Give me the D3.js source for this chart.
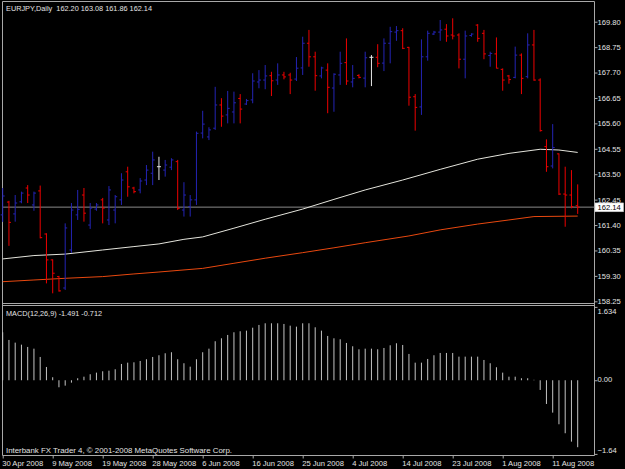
<!DOCTYPE html>
<html><head><meta charset="utf-8">
<script src="https://cdn.jsdelivr.net/npm/d3@7"></script>
<style>html,body{margin:0;padding:0;background:#000;overflow:hidden}</style>
</head><body><svg id="c" width="625" height="469"></svg>
<script>
// ---- data (EURJPY daily, 30 Apr 2008 – 15 Aug 2008) ----
const opens = [161.82,162.35,161.86,162.36,162.93,162.23,162.81,161.03,159.96,159.27,
158.80,160.37,161.82,162.64,161.40,162.06,162.44,161.61,162.02,162.44,
163.60,162.93,162.85,163.26,163.54,163.81,163.67,163.79,164.02,162.02,
162.16,162.44,165.20,165.04,165.40,166.36,165.95,166.07,166.63,166.40,
166.57,167.31,167.39,167.57,167.39,167.60,167.60,167.43,167.89,168.91,
168.35,167.56,167.80,167.06,167.60,168.11,167.31,167.58,167.47,168.33,
168.33,168.09,168.91,169.37,169.43,168.74,166.70,166.28,168.35,169.29,
169.37,169.49,169.25,169.25,168.25,169.23,169.66,169.32,168.40,168.47,
167.83,167.56,167.50,168.42,167.53,168.84,167.39,164.64,163.84,164.34,
162.68,162.64,162.20];
const highs = [162.93,162.40,162.64,162.78,163.05,162.78,163.03,161.06,159.98,159.30,
161.47,162.31,162.85,162.93,162.31,162.31,162.52,163.01,162.64,163.54,
163.81,162.98,163.34,163.88,164.43,164.22,164.09,164.16,164.09,163.17,
162.64,165.26,166.12,165.44,167.11,166.64,166.94,166.91,166.81,166.61,
167.67,167.80,168.01,167.73,168.08,167.73,167.69,168.34,169.18,169.46,
168.56,167.94,168.08,167.67,168.56,169.11,168.01,167.63,168.56,168.42,
168.87,169.11,169.59,169.62,169.53,168.76,166.81,169.07,169.43,169.42,
169.87,169.70,169.94,169.32,169.43,169.32,169.70,169.46,168.56,169.15,
167.87,167.60,168.77,168.49,169.32,169.46,167.46,164.94,165.57,164.36,
163.81,163.67,163.08];
const lows = [161.53,160.54,161.54,162.30,162.31,161.99,160.85,158.99,158.58,158.65,
158.72,160.25,161.61,161.54,161.24,161.99,161.47,161.40,161.47,162.23,
162.57,162.71,162.71,163.05,163.05,163.26,163.40,163.67,162.02,161.75,
161.75,162.23,164.98,164.91,165.33,165.46,165.60,165.60,165.60,166.36,
166.43,167.05,167.01,166.73,167.19,167.42,166.81,167.35,167.60,167.94,
166.95,167.46,166.02,166.08,167.19,167.19,167.09,167.46,167.09,167.14,
167.92,167.76,168.08,169.01,168.67,166.33,165.30,165.95,168.19,169.25,
169.01,168.97,169.07,167.87,167.46,169.18,168.97,168.25,167.94,167.87,
166.95,167.24,167.46,166.81,167.46,167.36,165.26,163.60,163.74,162.64,
161.33,162.09,161.86];
const closes = [162.60,161.51,162.31,162.72,162.64,162.72,160.88,159.96,159.41,158.68,
161.28,162.02,162.05,161.89,162.10,162.23,162.10,162.85,162.57,163.26,
162.98,162.78,163.22,163.67,164.09,163.81,163.88,164.09,162.09,162.64,
162.44,165.19,165.57,165.33,166.36,165.90,166.22,166.45,166.19,166.54,
167.35,167.39,167.56,167.36,167.60,167.52,167.39,167.88,168.91,168.35,
167.57,167.89,167.09,167.63,168.08,167.35,167.46,167.50,168.31,168.33,
168.08,168.91,169.39,169.43,168.70,166.68,166.26,168.35,169.32,169.37,
169.46,169.21,169.21,168.25,169.21,169.29,169.11,168.47,168.49,167.88,
167.39,167.41,168.42,167.46,168.84,167.39,165.30,163.81,164.60,162.68,
162.64,162.16,162.14];
// moving averages read at selected bars
const maWhiteBars = [0,5,10,16,21,25,29,32,37,42,48,53,58,64,70,76,81,86,89,92];
const maWhite = [160.00,160.14,160.20,160.37,160.51,160.62,160.81,160.91,161.27,161.64,162.06,162.46,162.85,163.26,163.70,164.12,164.36,164.53,164.50,164.40];
const maRedBars = [0,5,10,16,21,25,32,37,42,48,53,58,65,70,76,81,85,92];
const maRed = [159.06,159.13,159.20,159.27,159.38,159.46,159.61,159.82,160.03,160.26,160.46,160.67,160.95,161.20,161.44,161.61,161.75,161.77];
const macd = [1.069,0.898,0.838,0.793,0.742,0.704,0.519,0.296,0.067,-0.156,
-0.12,-0.053,0.045,0.08,0.134,0.17,0.2,0.214,0.245,0.363,
0.392,0.4,0.43,0.468,0.519,0.557,0.601,0.624,0.468,0.379,
0.303,0.468,0.624,0.704,0.869,0.935,1.009,1.069,1.091,1.105,
1.171,1.232,1.269,1.269,1.269,1.254,1.216,1.194,1.269,1.269,
1.18,1.105,0.987,0.935,0.913,0.831,0.757,0.69,0.704,0.704,
0.69,0.719,0.779,0.824,0.786,0.586,0.392,0.392,0.474,0.557,
0.608,0.608,0.608,0.526,0.526,0.526,0.526,0.452,0.379,0.29,
0.17,0.08,0.08,0.045,0.045,0.01,-0.216,-0.528,-0.721,-0.98,
-1.18,-1.367,-1.491];
const priceTicks = [158.25,159.30,160.35,161.40,162.45,163.50,164.55,165.60,166.65,167.70,168.75,169.80];
const macdTicks = [1.634,0,-1.64];
const dateLabels = ["30 Apr 2008","9 May 2008","19 May 2008","28 May 2008","6 Jun 2008","16 Jun 2008","25 Jun 2008","4 Jul 2008","14 Jul 2008","23 Jul 2008","1 Aug 2008","11 Aug 2008"];
const lastPrice = 162.14;
const titleText = "EURJPY,Daily  162.20 163.08 161.86 162.14";
const macdText = "MACD(12,26,9) -1.491 -0.712";
const footText = "Interbank FX Trader 4, \u00A9 2001-2008 MetaQuotes Software Corp.";

// ---- drawing ----
const FONT = "'Liberation Sans', Arial, sans-serif";
const FS = 7.6;
const TXT = "#e4e4e4", FRAME = "#a8a8a8";
const svg = d3.select("#c");
svg.append("rect").attr("width",625).attr("height",469).attr("fill","#000");

const n = closes.length;
const x = d3.scaleLinear().domain([0, n-1]).range([2.7, 577.7]);
const y = d3.scaleLinear().domain([158.25, 169.80]).range([301.3, 21.7]);
const ym = d3.scaleLinear().domain([-1.64, 1.634]).range([453.9, 306.9]);

// frames
const frame = svg.append("g").attr("stroke",FRAME).attr("stroke-width",1);
frame.append("line").attr("x1",2.5).attr("x2",594.5).attr("y1",1.5).attr("y2",1.5);
frame.append("line").attr("x1",2.5).attr("x2",2.5).attr("y1",1.5).attr("y2",455.5);
frame.append("line").attr("x1",594.5).attr("x2",594.5).attr("y1",1.5).attr("y2",455.5);
frame.append("line").attr("x1",2.5).attr("x2",594.5).attr("y1",303.5).attr("y2",303.5);
frame.append("line").attr("x1",2.5).attr("x2",594.5).attr("y1",305.5).attr("y2",305.5);
frame.append("line").attr("x1",2.5).attr("x2",594.5).attr("y1",455.5).attr("y2",455.5);

// last price line
svg.append("line").attr("x1",2.5).attr("x2",594.5)
  .attr("y1",y(lastPrice)).attr("y2",y(lastPrice))
  .attr("stroke","#8a8a8a").attr("stroke-width",1);

// moving averages
const line = d3.line().x(d=>x(d[0])).y(d=>y(d[1]));
svg.append("path").datum(maRedBars.map((b,i)=>[b,maRed[i]]))
  .attr("d",line).attr("fill","none").attr("stroke","#e8480f").attr("stroke-width",1);
svg.append("path").datum(maWhiteBars.map((b,i)=>[b,maWhite[i]]))
  .attr("d",line).attr("fill","none").attr("stroke","#e4e4dc").attr("stroke-width",1);

// OHLC bars
const bars = d3.range(n).map(i=>({i,o:opens[i],h:highs[i],l:lows[i],c:closes[i]}));
const col = d => d.c > d.o ? "#2424b4" : (d.c < d.o ? "#ee0000" : "#e8e8e8");
const bg = svg.append("g").selectAll("g").data(bars).join("g").attr("stroke",col).attr("stroke-width",1);
bg.append("line").attr("x1",d=>x(d.i)).attr("x2",d=>x(d.i)).attr("y1",d=>y(d.h)).attr("y2",d=>y(d.l));
bg.append("line").attr("x1",d=>x(d.i)-2).attr("x2",d=>x(d.i)).attr("y1",d=>y(d.o)).attr("y2",d=>y(d.o));
bg.append("line").attr("x1",d=>x(d.i)).attr("x2",d=>x(d.i)+2).attr("y1",d=>y(d.c)).attr("y2",d=>y(d.c));

// MACD histogram
svg.append("g").selectAll("line").data(macd).join("line")
  .attr("x1",(d,i)=>x(i)).attr("x2",(d,i)=>x(i))
  .attr("y1",ym(0)).attr("y2",d=>ym(d))
  .attr("stroke","#c4c4c4").attr("stroke-width",1);

// price axis
const pa = svg.append("g").attr("transform","translate(594.5,0)")
  .call(d3.axisRight(y).tickValues(priceTicks).tickSize(3).tickPadding(0).tickFormat(d3.format(".2f")));
pa.select(".domain").remove();
pa.selectAll("line").attr("stroke",FRAME);
pa.selectAll("text").attr("fill",TXT).attr("font-family",FONT).attr("font-size",FS);

// last price tag
const tagY = y(lastPrice);
svg.append("rect").attr("x",595).attr("y",tagY-4.2).attr("width",28.5).attr("height",8.8)
  .attr("fill","#ffffff").attr("stroke","#c8c8c8").attr("stroke-width",0.6);
svg.append("text").attr("x",597.5).attr("y",tagY).attr("dy","0.36em")
  .attr("fill","#000").attr("font-family",FONT).attr("font-size",FS).text(d3.format(".2f")(lastPrice));

// MACD axis
const ma = svg.append("g").attr("transform","translate(594.5,0)")
  .call(d3.axisRight(ym).tickValues(macdTicks).tickSize(3).tickPadding(0)
    .tickFormat(d => d===0 ? "0.00" : (d>0 ? d3.format(".3f")(d) : d3.format(".2f")(d))));
ma.select(".domain").remove();
ma.selectAll("line").attr("stroke",FRAME);
ma.selectAll("text").attr("fill",TXT).attr("font-family",FONT).attr("font-size",FS)
  .attr("dy", d => d>0 ? "0.9em" : (d<0 ? "-0.15em" : "0.2em"));

// date axis
const da = svg.append("g").attr("transform","translate(0,455.5)")
  .call(d3.axisBottom(x).tickValues(d3.range(0,n,8)).tickSize(3).tickPadding(2.4)
    .tickFormat((d,i)=>dateLabels[i]));
da.select(".domain").remove();
da.selectAll("line").attr("stroke",FRAME);
da.selectAll("text").attr("fill",TXT).attr("font-family",FONT).attr("font-size",FS)
  .attr("text-anchor","start").attr("dx",-1);

// labels
const lbl = (t,xx,yy,len)=>svg.append("text").attr("x",xx).attr("y",yy).attr("fill",TXT)
  .attr("font-family",FONT).attr("font-size",FS).style("white-space","pre")
  .attr("textLength",len).attr("lengthAdjust","spacingAndGlyphs").text(t);
lbl(titleText,6,11,146);
lbl(macdText,6,316,96);
lbl(footText,6,452.5,226);
</script>
</body></html>
